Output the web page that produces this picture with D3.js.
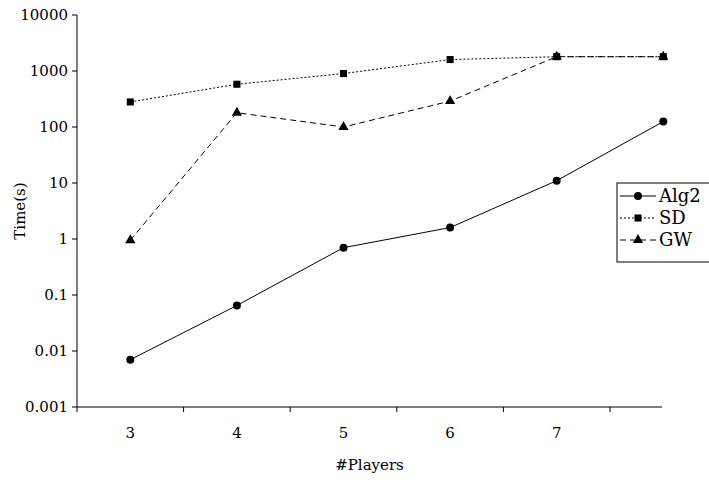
<!DOCTYPE html><html><head><script src="https://cdn.jsdelivr.net/npm/d3@7"></script>
<style>body{margin:0;background:#fff}text{font-family:"DejaVu Serif","Liberation Serif","Times New Roman",serif;font-size:15px;fill:#000}.lg{font-size:18px}</style></head><body><svg width="709" height="480"></svg><script>
const categories=["3","4","5","6","7",""];
const alg2=[0.007,0.065,0.7,1.6,11,125];
const sd=[280,580,900,1600,1800,1800];
const gw=[0.95,180,100,290,1800,1800];
const yTicks=[0.001,0.01,0.1,1,10,100,1000,10000];
const svg=d3.select("svg");
const L=77,R=662,T=15,B=407;
const x=d3.scaleBand().domain(categories).range([L,L+6*106.6]);
const y=d3.scaleLog().domain([0.001,10000]).range([B,T]);
const cx=c=>x(c)+x.bandwidth()/2;
svg.append("line").attr("x1",L).attr("x2",L).attr("y1",T).attr("y2",B).attr("stroke","#000");
svg.append("line").attr("x1",L).attr("x2",R).attr("y1",B).attr("y2",B).attr("stroke","#000");
yTicks.forEach(t=>{svg.append("line").attr("x1",L-5).attr("x2",L).attr("y1",y(t)).attr("y2",y(t)).attr("stroke","#000");
svg.append("text").attr("x",L-9).attr("y",y(t)+5).attr("text-anchor","end").text(String(t));});
categories.forEach((c,i)=>{svg.append("line").attr("x1",x(c)).attr("x2",x(c)).attr("y1",B).attr("y2",B+5).attr("stroke","#000");
if(c)svg.append("text").attr("x",cx(c)).attr("y",B+31).attr("text-anchor","middle").text(c);});
svg.append("text").attr("x",(L+R)/2).attr("y",B+63).attr("text-anchor","middle").text("#Players");
svg.append("text").attr("transform",`translate(25,${(T+B)/2}) rotate(-90)`).attr("text-anchor","middle").text("Time(s)");
const series=[{name:"Alg2",v:alg2,dash:null,m:"circle"},{name:"SD",v:sd,dash:"2,2",m:"square"},{name:"GW",v:gw,dash:"6,4",m:"triangle"}];
const sym={circle:d3.symbolCircle,square:d3.symbolSquare,triangle:d3.symbolTriangle};
const sz=m=>m==="triangle"?45:50;
const line=d3.line().x((d,i)=>cx(categories[i])).y(d=>y(d));
series.forEach(s=>{svg.append("path").attr("d",line(s.v)).attr("fill","none").attr("stroke","#000").attr("stroke-width",1).attr("stroke-dasharray",s.dash);
s.v.forEach((d,i)=>svg.append("path").attr("d",d3.symbol(sym[s.m],sz(s.m))()).attr("transform",`translate(${cx(categories[i])},${y(d)})`));});
svg.append("rect").attr("x",617).attr("y",183).attr("width",100).attr("height",79).attr("fill","#fff").attr("stroke","#000");
series.forEach((s,i)=>{const yy=196+i*22;
svg.append("line").attr("x1",620).attr("x2",656).attr("y1",yy).attr("y2",yy).attr("stroke","#000").attr("stroke-dasharray",s.dash);
svg.append("path").attr("d",d3.symbol(sym[s.m],sz(s.m))()).attr("transform",`translate(638,${yy})`);
svg.append("text").attr("class","lg").attr("x",659).attr("y",yy+6).text(s.name);});
</script></body></html>
